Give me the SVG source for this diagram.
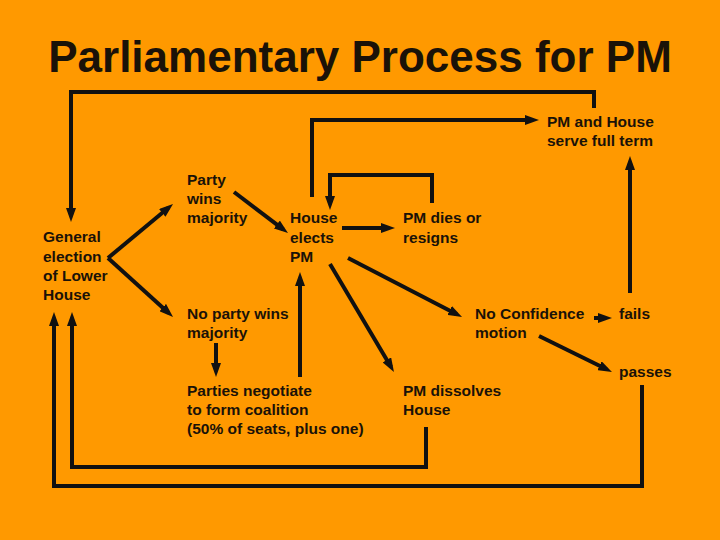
<svg xmlns="http://www.w3.org/2000/svg" width="720" height="540" viewBox="0 0 720 540">
<defs>
<marker id="ah" markerUnits="userSpaceOnUse" markerWidth="14" markerHeight="10" refX="8" refY="5" orient="auto">
<path d="M0,0 L14,5 L0,10 z" fill="#111"/>
</marker>
<style>
.t{font-family:"Liberation Sans",Arial,sans-serif;font-weight:bold;font-size:15.5px;fill:#1a1208}
.title{font-family:"Liberation Sans",Arial,sans-serif;font-weight:bold;font-size:44px;fill:#1a1208}
.c{fill:none;stroke:#111;stroke-width:4;stroke-linejoin:miter;marker-end:url(#ah)}
.n{fill:none;stroke:#111;stroke-width:4;stroke-linejoin:miter}
</style>
</defs>
<rect width="720" height="540" fill="#FF9900"/>
<text class="title" x="360" y="72" text-anchor="middle">Parliamentary Process for PM</text>

<g id="general"><text class="t" x="43" y="242">General</text><text class="t" x="43" y="262">election</text><text class="t" x="43" y="281">of Lower</text><text class="t" x="43" y="300">House</text></g>
<g id="party-wins"><text class="t" x="187" y="185">Party</text><text class="t" x="187" y="204">wins</text><text class="t" x="187" y="223">majority</text></g>
<g id="house-elects"><text class="t" x="290" y="223">House</text><text class="t" x="290" y="243">elects</text><text class="t" x="290" y="262">PM</text></g>
<g id="no-party"><text class="t" x="187" y="319">No party wins</text><text class="t" x="187" y="338">majority</text></g>
<g id="negotiate"><text class="t" x="187" y="396">Parties negotiate</text><text class="t" x="187" y="415">to form coalition</text><text class="t" x="187" y="434">(50% of seats, plus one)</text></g>
<g id="pm-dies"><text class="t" x="403" y="223">PM dies or</text><text class="t" x="403" y="243">resigns</text></g>
<g id="no-confidence"><text class="t" x="475" y="319">No Confidence</text><text class="t" x="475" y="338">motion</text></g>
<g id="fails"><text class="t" x="619" y="319">fails</text></g>
<g id="passes"><text class="t" x="619" y="377">passes</text></g>
<g id="dissolves"><text class="t" x="403" y="396">PM dissolves</text><text class="t" x="403" y="415">House</text></g>
<g id="full-term"><text class="t" x="547" y="127">PM and House</text><text class="t" x="547" y="146">serve full term</text></g>

<g id="connectors">
<polyline class="c" points="594,108 594,92 71,92 71,216"/>
<polyline class="c" points="312,197 312,120 533,120"/>
<polyline class="c" points="432,203 432,175 330,175 330,204"/>
<line class="c" x1="342" y1="228" x2="389" y2="228"/>
<line class="c" x1="108" y1="258" x2="168.4" y2="207.8"/>
<line class="c" x1="108" y1="258" x2="168.6" y2="313"/>
<line class="c" x1="234" y1="192" x2="283.2" y2="229.4"/>
<line class="c" x1="216" y1="343" x2="216" y2="371"/>
<line class="c" x1="300" y1="377" x2="300" y2="278"/>
<line class="c" x1="330" y1="264" x2="390.9" y2="366.8"/>
<line class="c" x1="348" y1="258" x2="456.7" y2="314.2"/>
<line class="c" x1="594" y1="318" x2="606" y2="318"/>
<line class="c" x1="630" y1="293" x2="630" y2="162"/>
<line class="c" x1="539" y1="336" x2="606.6" y2="369.3"/>
<polyline class="c" points="642,385 642,486 54,486 54,318"/>
<polyline class="c" points="426,427 426,467 72,467 72,318"/>
</g>
</svg>
